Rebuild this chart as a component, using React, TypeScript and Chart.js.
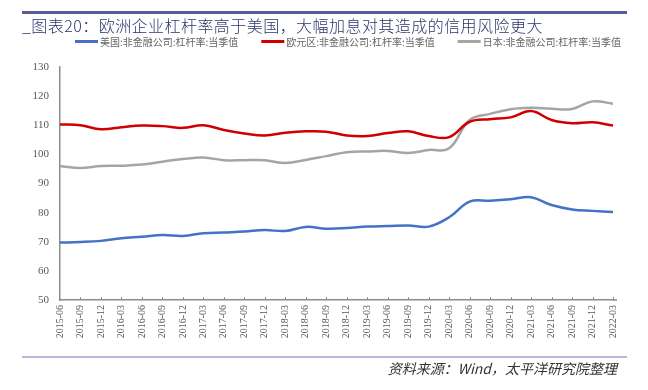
import React, { useEffect, useRef } from "react";
import { Chart, registerables } from "chart.js";

Chart.register(...registerables);

const categories = [
  "2015-06", "2015-09", "2015-12",
  "2016-03", "2016-06", "2016-09", "2016-12",
  "2017-03", "2017-06", "2017-09", "2017-12",
  "2018-03", "2018-06", "2018-09", "2018-12",
  "2019-03", "2019-06", "2019-09", "2019-12",
  "2020-03", "2020-06", "2020-09", "2020-12",
  "2021-03", "2021-06", "2021-09", "2021-12",
  "2022-03",
];

const usValues = [
  69.7, 69.9, 70.3, 71.2, 71.7, 72.3, 72.0, 72.9, 73.2, 73.5, 74.0, 73.7, 75.1, 74.5,
  74.7, 75.2, 75.4, 75.6, 75.2, 78.4, 83.8, 84.1, 84.6, 85.3, 82.6, 81.1, 80.6, 80.2,
];

const euroValues = [
  110.3, 110.0, 108.6, 109.3, 109.9, 109.7, 109.1, 110.0, 108.4, 107.2, 106.5, 107.4, 107.9, 107.8,
  106.5, 106.3, 107.3, 107.9, 106.3, 105.9, 111.2, 112.1, 112.7, 114.9, 111.8, 110.7, 111.0, 109.9,
];

const japanValues = [
  96.0, 95.3, 96.0, 96.1, 96.5, 97.5, 98.4, 98.9, 98.0, 98.0, 98.0, 97.0, 98.1, 99.4,
  100.7, 101.0, 101.2, 100.5, 101.5, 102.1, 111.8, 113.9, 115.5, 116.0, 115.7, 115.6, 118.2, 117.4,
];

const seriesNames = [
  "美国:非金融公司:杠杆率:当季值",
  "欧元区:非金融公司:杠杆率:当季值",
  "日本:非金融公司:杠杆率:当季值",
];

const yMin = 50;
const yMax = 130;
const yStep = 10;

const titleText = "_图表20：欧洲企业杠杆率高于美国，大幅加息对其造成的信用风险更大";
const sourceText = "资料来源：Wind，太平洋研究院整理";

const colors = ["#4472C4", "#D00000", "#A5A5A5"];

const decorPlugin = {
  id: "decor",
  afterDraw(chart: any) {
    const ctx = chart.ctx as any;
    const area = chart.chartArea;
    ctx.save();
    // top rule
    ctx.strokeStyle = "#5A5A98";
    ctx.lineWidth = 3;
    ctx.beginPath();
    ctx.moveTo(22, 12.5);
    ctx.lineTo(627, 12.5);
    ctx.stroke();
    // title
    ctx.fillStyle = "#2B3468";
    ctx.font = '300 16px "Noto Sans CJK SC"';
    ctx.letterSpacing = "0.45px";
    ctx.textBaseline = "middle";
    ctx.textAlign = "left";
    ctx.fillText(titleText, 22, 26);
    ctx.letterSpacing = "0px";
    // legend: laid out left to right, fitted between x=75 and x=621
    ctx.font = '10px "Noto Sans CJK SC"';
    const lineLen = 23;
    const textGap = 2;
    const widths = chart.data.datasets.map((ds: any) => ctx.measureText(ds.label).width);
    const used = widths.reduce((a: number, b: number) => a + b, 0) + 3 * (lineLen + textGap);
    const itemGap = Math.max(8, (621 - 75 - used) / 2);
    let x = 75;
    chart.data.datasets.forEach((ds: any, i: number) => {
      ctx.strokeStyle = ds.borderColor;
      ctx.lineWidth = 3;
      ctx.beginPath();
      ctx.moveTo(x, 41.5);
      ctx.lineTo(x + lineLen, 41.5);
      ctx.stroke();
      ctx.fillStyle = "#666666";
      ctx.fillText(ds.label, x + lineLen + textGap, 42);
      x += lineLen + textGap + widths[i] + itemGap;
    });
    // x tick marks (inward)
    const xs = chart.scales.x;
    ctx.strokeStyle = "#8C8C8C";
    ctx.lineWidth = 1;
    for (let i = 1; i < xs.ticks.length; i++) {
      const px = Math.round(xs.getPixelForTick(i)) + 0.5;
      ctx.beginPath();
      ctx.moveTo(px, area.bottom);
      ctx.lineTo(px, area.bottom - 3);
      ctx.stroke();
    }
    // x axis extension
    ctx.lineWidth = 1.5;
    ctx.beginPath();
    ctx.moveTo(area.right, area.bottom);
    ctx.lineTo(area.right + 4, area.bottom);
    ctx.stroke();
    // bottom rule
    ctx.strokeStyle = "#A0A0D0";
    ctx.lineWidth = 1.5;
    ctx.beginPath();
    ctx.moveTo(22, 357);
    ctx.lineTo(627, 357);
    ctx.stroke();
    // source
    ctx.fillStyle = "#333333";
    ctx.font = 'italic 14px "Noto Sans CJK SC"';
    ctx.textAlign = "right";
    ctx.fillText(sourceText, 617, 369);
    ctx.restore();
  },
};

export default function App() {
  const ref = useRef<HTMLCanvasElement | null>(null);

  useEffect(() => {
    if (!ref.current) return;
    const mk = (label: string, data: number[], color: string) => ({
      label,
      data,
      borderColor: color,
      backgroundColor: color,
      borderWidth: 2.5,
      pointRadius: 0,
      tension: 0.4,
      fill: false,
    });
    const chart = new Chart(ref.current, {
      type: "line",
      data: {
        labels: categories,
        datasets: [
          mk(seriesNames[0], usValues, colors[0]),
          mk(seriesNames[1], euroValues, colors[1]),
          mk(seriesNames[2], japanValues, colors[2]),
        ],
      },
      options: {
        animation: false,
        responsive: false,
        layout: { padding: { left: 0, right: 35, top: 67, bottom: 40 } },
        plugins: {
          legend: { display: false },
          title: { display: false },
          tooltip: { enabled: false },
        },
        scales: {
          x: {
            offset: false,
            grid: { display: false, drawTicks: false },
            border: { display: true, color: "#8C8C8C", width: 1.5 },
            ticks: {
              autoSkip: false,
              maxRotation: 90,
              minRotation: 90,
              padding: 5,
              color: "#595959",
              font: { family: '"Liberation Serif"', size: 10 },
            },
            afterFit(scale: any) {
              scale.height = 50;
            },
          },
          y: {
            min: yMin,
            max: yMax,
            grid: { display: false, drawTicks: false },
            border: { display: true, color: "#8C8C8C", width: 1.5 },
            ticks: {
              stepSize: yStep,
              padding: 11,
              color: "#595959",
              font: { family: '"Liberation Serif"', size: 11 },
            },
            afterFit(scale: any) {
              scale.width = 60;
            },
          },
        },
      },
      plugins: [decorPlugin],
    });
    return () => chart.destroy();
  }, []);

  return (
    <div style={{ position: "fixed", left: 0, top: 0, width: 648, height: 390, background: "#fff" }}>
      <canvas ref={ref} width={648} height={390} style={{ width: 648, height: 390 }} />
    </div>
  );
}
